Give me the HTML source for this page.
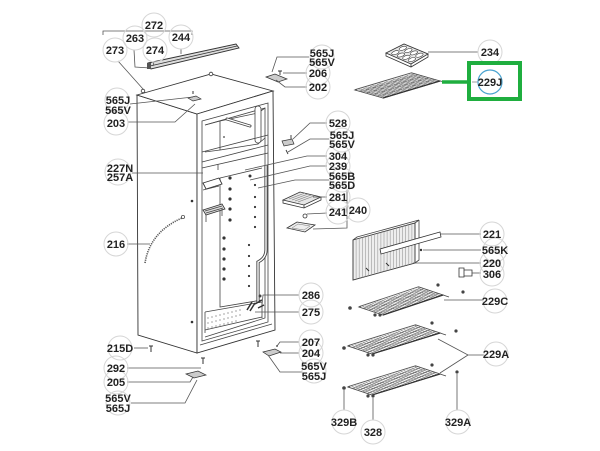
<!DOCTYPE html>
<html><head><meta charset="utf-8"><style>
html,body{margin:0;padding:0;background:#fff;}
svg{display:block;}
text{font-family:"Liberation Sans",Arial,sans-serif;font-weight:bold;font-size:11px;fill:#222;text-anchor:middle;}
.c{fill:none;stroke:#d6d6d6;stroke-width:1;}
.l{fill:none;stroke:#555;stroke-width:0.8;}
.b{fill:#fff;stroke:#333;stroke-width:0.9;}
.t{fill:none;stroke:#444;stroke-width:0.8;}
.n{vector-effect:non-scaling-stroke;}
</style></head><body>
<svg width="600" height="451" viewBox="0 0 600 451" xmlns="http://www.w3.org/2000/svg">
<defs>
<g id="wires">
<path class="n" d="M0,0H1V1H0Z" fill="#fff" stroke="#444" stroke-width="0.9"/>
<path class="n" d="M.04,0V1M.08,0V1M.12,0V1M.16,0V1M.2,0V1M.24,0V1M.28,0V1M.32,0V1M.36,0V1M.4,0V1M.44,0V1M.48,0V1M.52,0V1M.56,0V1M.6,0V1M.64,0V1M.68,0V1M.72,0V1M.76,0V1M.8,0V1M.84,0V1M.88,0V1M.92,0V1M.96,0V1" stroke="#666" stroke-width="0.65" fill="none"/>
<path class="n" d="M0,.2H1M0,.4H1M0,.6H1M0,.8H1" stroke="#777" stroke-width="0.55" fill="none"/>
<path class="n" d="M0,1H1" stroke="#333" stroke-width="1.2" fill="none"/>
<path class="n" d="M0,0H1" stroke="#555" stroke-width="1.6" fill="none"/>
<path class="n" d="M0.02,0.03H0.98" stroke="#fff" stroke-width="0.7" fill="none"/>
</g>
</defs>
<rect width="600" height="451" fill="#fff"/>

<!-- ===== Fridge body ===== -->
<path class="b" d="M137,95 L197,114 L197,353 L138,335 Z"/>
<path class="b" d="M137,95 L211,74 L273,91 L197,114 Z"/>
<path class="b" d="M197,114 L273,91 L275,330 L197,353 Z"/>
<path class="t" d="M202,121 L268,103 L268,322 L202,341 Z"/>
<path class="t" d="M205,125 L265,108 L265,318 L205,337"/>
<!-- freezer -->
<path class="t" d="M220,121 L258,113 L258,144 L220,150 Z"/>
<path class="t" d="M205,125 L220,121 M265,108 L258,113 M220,150 L205,152 M258,144 L265,138"/>
<path d="M227,119 L250,126" stroke="#444" stroke-width="3" stroke-linecap="round"/>
<path d="M227,119 L250,126" stroke="#fff" stroke-width="1.2" stroke-linecap="round"/>
<rect x="255" y="106" width="6" height="37" rx="3" fill="#fff" stroke="#444" stroke-width="0.8"/>
<circle cx="224" cy="137" r="0.9" fill="#444"/>
<!-- divider -->
<path class="t" d="M202,152 L268,135 M202,162 L268,145 M202,168 L268,153 M218,164 L218,170"/>
<!-- fridge compartment -->
<path class="t" d="M220,178 L220,307 L262,300 M220,178 L262,168"/>
<path d="M266,165 L266,250 Q266,258 258,262 L258,303" fill="none" stroke="#444" stroke-width="3.2"/>
<path d="M266,165 L266,250 Q266,258 258,262 L258,303" fill="none" stroke="#fff" stroke-width="1.4"/>
<!-- inner shelves / supports -->
<path class="b" d="M203,183 L219,178 L222,184 L206,189 Z"/>
<path class="t" d="M203,190 L219,186"/>
<path d="M203,210 L222,204 L225,209 L206,215 Z" fill="#ddd" stroke="#333" stroke-width="0.8"/>
<path class="t" d="M205,211 L222,206 M206,213 L223,208"/>
<path class="t" d="M206,215 L206,222 M222,209 L222,216"/>
<!-- holes -->
<g fill="#333">
<circle cx="230" cy="178" r="1.6"/><circle cx="230" cy="189" r="1.6"/><circle cx="230" cy="199" r="1.6"/><circle cx="230" cy="209" r="1.6"/><circle cx="230" cy="220" r="1.6"/>
<circle cx="224" cy="238" r="1.6"/><circle cx="224" cy="249" r="1.6"/><circle cx="224" cy="259" r="1.6"/><circle cx="224" cy="269" r="1.6"/><circle cx="224" cy="279" r="1.6"/>
<circle cx="255" cy="185" r="1.1"/><circle cx="255" cy="197" r="1.1"/><circle cx="255" cy="207" r="1.1"/><circle cx="255" cy="217" r="1.1"/><circle cx="255" cy="227" r="1.1"/>
<circle cx="249" cy="245" r="1.1"/><circle cx="249" cy="256" r="1.1"/><circle cx="249" cy="266" r="1.1"/><circle cx="249" cy="276" r="1.1"/><circle cx="249" cy="286" r="1.1"/>
<circle cx="192" cy="201" r="1.3"/><circle cx="192" cy="322" r="1.3"/><circle cx="250" cy="176" r="1.5"/>
</g>
<!-- crisper bottom -->
<path class="t" d="M205,312 L262,302 M205,312 L205,333 M262,302 L262,318 M205,330 L262,317"/>
<g fill="#666">
<circle cx="208" cy="318" r="0.6"/><circle cx="212" cy="317" r="0.6"/><circle cx="216" cy="316" r="0.6"/><circle cx="220" cy="315" r="0.6"/><circle cx="224" cy="314" r="0.6"/><circle cx="228" cy="313" r="0.6"/><circle cx="232" cy="312" r="0.6"/><circle cx="236" cy="311" r="0.6"/><circle cx="240" cy="310" r="0.6"/>
<circle cx="208" cy="323" r="0.6"/><circle cx="212" cy="322" r="0.6"/><circle cx="216" cy="321" r="0.6"/><circle cx="220" cy="320" r="0.6"/><circle cx="224" cy="319" r="0.6"/><circle cx="228" cy="318" r="0.6"/><circle cx="232" cy="317" r="0.6"/><circle cx="236" cy="316" r="0.6"/><circle cx="240" cy="315" r="0.6"/>
<circle cx="208" cy="328" r="0.6"/><circle cx="212" cy="327" r="0.6"/><circle cx="216" cy="326" r="0.6"/><circle cx="220" cy="325" r="0.6"/><circle cx="224" cy="324" r="0.6"/><circle cx="228" cy="323" r="0.6"/><circle cx="232" cy="322" r="0.6"/><circle cx="236" cy="321" r="0.6"/>
</g>
<path d="M247,310 L252,302 M250,311 L255,303" stroke="#333" stroke-width="1.5"/>
<path class="t" d="M200,345 L272,324"/>
<!-- tube 216 -->
<path d="M145,263 Q150,232 182,218" fill="none" stroke="#555" stroke-width="1.6" stroke-dasharray="1.2,1"/>
<circle cx="183" cy="217" r="1.6" fill="none" stroke="#555" stroke-width="0.8"/>

<!-- top rail 244 -->
<path d="M148,63 L236,44 L239,48 L151,69 Z" fill="#ddd" stroke="#333" stroke-width="0.9"/>
<path d="M150,66 L237,46" stroke="#333" stroke-width="0.8"/>
<rect x="147" y="63" width="4" height="6" fill="#555"/>
<circle cx="211" cy="74" r="1.8" fill="#fff" stroke="#333" stroke-width="0.8"/>
<circle cx="143" cy="91" r="1.8" fill="#fff" stroke="#333" stroke-width="0.8"/>
<!-- small parts top -->
<path d="M188,98 L196,96 L201,99 L193,101 Z" fill="#ccc" stroke="#333" stroke-width="0.7"/>
<path d="M193,91 L193,94" stroke="#333" stroke-width="1"/>
<path d="M266,77 L275,74 L287,79 L278,82 Z" fill="#ccc" stroke="#333" stroke-width="0.7"/>
<path d="M278,71 L282,71 M280,71 L280,75" stroke="#333" stroke-width="0.9"/>
<!-- 528 clip -->
<path d="M282,141 L292,139 L294,144 L284,146 Z" fill="#ccc" stroke="#333" stroke-width="0.7"/>
<path d="M291,135 L291,139 M286,150 L288,154" stroke="#333" stroke-width="0.9"/>
<!-- light cover 281 -->
<path d="M283,200 L300,192 L321,197 L304,205 Z" fill="#e6e6e6" stroke="#333" stroke-width="0.8"/>
<path d="M283,200 L283,203 L304,208 L321,200 L321,197 M304,205 L304,208" fill="none" stroke="#333" stroke-width="0.8"/>
<path d="M289,199 L305,193 M292,200 L308,194 M295,201 L311,195 M298,202 L314,196" stroke="#777" stroke-width="0.6"/>
<circle cx="305" cy="216" r="2" fill="#fff" stroke="#333" stroke-width="0.8"/>
<path d="M287,228 L297,222 L315,225 L305,232 Z" fill="#eee" stroke="#333" stroke-width="0.8"/>
<path d="M292,228 L298,224 L310,226 L304,230 Z" fill="none" stroke="#777" stroke-width="0.5"/>

<!-- panel 220 -->
<g transform="matrix(62,-17,0,40,353,240)">
<path class="n" d="M0,0H1V1H0Z" fill="#eee" stroke="#333" stroke-width="0.9"/>
<path class="n" d="M.05,0V1M.1,0V1M.15,0V1M.2,0V1M.25,0V1M.3,0V1M.35,0V1M.4,0V1M.45,0V1M.5,0V1M.55,0V1M.6,0V1M.65,0V1M.7,0V1M.75,0V1M.8,0V1M.85,0V1M.9,0V1M.95,0V1" stroke="#999" stroke-width="0.6" fill="none"/>
</g>
<path class="t" d="M353,240 L357,237 L419,220 L415,223 M419,220 L419,260 L415,263"/>
<path d="M380,249 L440,232 L441,237 L381,254 Z" fill="#fff" stroke="#333" stroke-width="0.8"/>
<path d="M366,268 L369,271 M386,263 L389,266" stroke="#333" stroke-width="1"/>
<circle cx="421" cy="250" r="1.2" fill="#333"/>
<!-- 306 -->
<path d="M459,268 L464,268 L464,277 L459,277 Z M464,270 L472,270 L472,276 L464,276 Z" fill="#fff" stroke="#333" stroke-width="0.8"/>

<!-- ice tray 234 -->
<path d="M386,53 L404,44 L428,54 L411,64 Z" fill="#e8e8e8" stroke="#333" stroke-width="0.9"/>
<path d="M386,53 L386,56 L411,67 L428,57 L428,54 M411,64 L411,67" fill="none" stroke="#333" stroke-width="0.8"/>
<g transform="matrix(24,10,-17,10,404,44)" fill="#fff" stroke="#333">
<ellipse class="n" cx=".15" cy=".28" rx=".09" ry=".18" stroke-width="0.6"/><ellipse class="n" cx=".38" cy=".28" rx=".09" ry=".18" stroke-width="0.6"/><ellipse class="n" cx=".61" cy=".28" rx=".09" ry=".18" stroke-width="0.6"/><ellipse class="n" cx=".84" cy=".28" rx=".09" ry=".18" stroke-width="0.6"/>
<ellipse class="n" cx=".15" cy=".72" rx=".09" ry=".18" stroke-width="0.6"/><ellipse class="n" cx=".38" cy=".72" rx=".09" ry=".18" stroke-width="0.6"/><ellipse class="n" cx=".61" cy=".72" rx=".09" ry=".18" stroke-width="0.6"/><ellipse class="n" cx=".84" cy=".72" rx=".09" ry=".18" stroke-width="0.6"/>
</g>

<!-- ===== Shelves ===== -->
<use href="#wires" transform="matrix(57,-17,28,8,355,90)"/>
<use href="#wires" transform="matrix(60,-20,24,8,359,307)"/>
<use href="#wires" transform="matrix(68,-21,24,8,348,346)"/>
<use href="#wires" transform="matrix(68,-21,24,8,348,387)"/>
<path class="t" d="M443,295 L449,297 M440,333 L446,335 M440,374 L446,376 M440,81 L445,82"/>
<!-- shelf screws -->
<g fill="#444">
<circle cx="438" cy="285" r="1.6"/><circle cx="463" cy="292" r="1.6"/><circle cx="350" cy="308" r="1.8"/><circle cx="375" cy="315" r="1.6"/><circle cx="380" cy="315" r="1.6"/>
<circle cx="432" cy="323" r="1.6"/><circle cx="456" cy="331" r="1.6"/><circle cx="344" cy="348" r="1.8"/><circle cx="368" cy="355" r="1.6"/><circle cx="373" cy="355" r="1.6"/>
<circle cx="432" cy="365" r="1.6"/><circle cx="457" cy="372" r="1.6"/><circle cx="344" cy="388" r="1.8"/><circle cx="368" cy="396" r="1.6"/><circle cx="373" cy="396" r="1.6"/>
</g>

<!-- bottom small parts -->
<path d="M149,346 L153,346 M151,346 L151,352" stroke="#333" stroke-width="1"/>
<path d="M201,358 L205,358 M203,358 L203,364" stroke="#333" stroke-width="1"/>
<path d="M186,374 L198,371 L206,375 L194,378 Z" fill="#ccc" stroke="#333" stroke-width="0.7"/>
<path d="M256,341 L260,341 M258,341 L258,347" stroke="#333" stroke-width="1"/>
<path d="M263,352 L275,349 L281,352 L269,356 Z" fill="#ccc" stroke="#333" stroke-width="0.7"/>
<circle cx="277" cy="346" r="0.9" fill="#333"/>
<path d="M255,304 L262,300 M258,308 L264,305" stroke="#333" stroke-width="1.4"/>
<circle cx="260" cy="296" r="1.5" fill="#444"/>

<!-- ===== Leaders ===== -->
<path class="l" d="M103,35 L103,31 L192,31 L192,35"/>
<path class="l" d="M134,50 L135,67 L150,68"/>
<path class="l" d="M154,62 L153,66"/>
<path class="l" d="M181,49 L181,54"/>
<path class="l" d="M118,61 L143,89"/>
<path class="l" d="M130,104 L193,97"/>
<path class="l" d="M128,122 L175,122 L195,104"/>
<path class="l" d="M132,173 L203,173"/>
<path class="l" d="M127,244 L150,244"/>
<path class="l" d="M134,348 L148,348"/>
<path class="l" d="M127,368 L201,368"/>
<path class="l" d="M127,382 L190,382 L193,377"/>
<path class="l" d="M131,403 L185,403 L197,380"/>
<path class="l" d="M309,57 L277,57 L272,72"/>
<path class="l" d="M307,73 L283,73"/>
<path class="l" d="M307,87 L285,87 L276,80"/>
<path class="l" d="M428,52 L478,52"/>
<path class="l" d="M327,123 L310,123 L293,139"/>
<path class="l" d="M329,139 L310,139 L288,152"/>
<path class="l" d="M327,156 L307,156 L245,170"/>
<path class="l" d="M327,166 L310,166 L250,180"/>
<path class="l" d="M329,180 L295,180 L258,188"/>
<path class="l" d="M327,197 L313,197"/>
<path class="l" d="M327,213 L307,214"/>
<path class="l" d="M347,190 L347,228 L313,229"/>
<path class="l" d="M441,234 L481,234"/>
<path class="l" d="M423,250 L481,250"/>
<path class="l" d="M413,263 L481,263"/>
<path class="l" d="M472,273 L481,273"/>
<path class="l" d="M444,300 L483,300"/>
<path class="l" d="M484,355 L468,355 L438,339 M468,355 L440,373"/>
<path class="l" d="M344,390 L344,410"/>
<path class="l" d="M373,398 L373,420"/>
<path class="l" d="M457,374 L457,410"/>
<path class="l" d="M299,295 L263,295 L262,305"/>
<path class="l" d="M299,312 L255,312"/>
<path class="l" d="M299,342 L280,342 L277,346"/>
<path class="l" d="M299,353 L280,353"/>
<path class="l" d="M302,372 L280,372 L268,355"/>

<!-- ===== Label circles ===== -->
<g class="c">
<circle cx="154" cy="25" r="12"/><circle cx="135" cy="38" r="12"/><circle cx="181" cy="37" r="12"/><circle cx="115" cy="50" r="12"/><circle cx="155" cy="50" r="12"/>
<circle cx="117" cy="100" r="12"/><circle cx="116" cy="123" r="12"/><circle cx="118" cy="172" r="13"/><circle cx="116" cy="244" r="12"/>
<circle cx="120" cy="348" r="12"/><circle cx="116" cy="368" r="12"/><circle cx="116" cy="382" r="12"/><circle cx="118" cy="403" r="12"/>
<circle cx="322" cy="57" r="12"/><circle cx="318" cy="73" r="12"/><circle cx="318" cy="87" r="12"/><circle cx="490" cy="52" r="12"/>
<circle cx="338" cy="123" r="12"/><circle cx="342" cy="140" r="12"/><circle cx="338" cy="156" r="12"/><circle cx="338" cy="166" r="12"/><circle cx="342" cy="180" r="12"/>
<circle cx="338" cy="197" r="12"/><circle cx="338" cy="212" r="12"/><circle cx="358" cy="210" r="12"/>
<circle cx="492" cy="234" r="12"/><circle cx="495" cy="250" r="12"/><circle cx="492" cy="263" r="12"/><circle cx="492" cy="274" r="12"/>
<circle cx="495" cy="301" r="12"/><circle cx="496" cy="354" r="12"/>
<circle cx="344" cy="422" r="12"/><circle cx="373" cy="432" r="12"/><circle cx="458" cy="422" r="12"/>
<circle cx="311" cy="295" r="12"/><circle cx="311" cy="312" r="12"/><circle cx="311" cy="342" r="12"/><circle cx="311" cy="353" r="12"/><circle cx="314" cy="371" r="12"/>
</g>

<!-- green highlight 229J -->
<path d="M442,82 L467,82" stroke="#1fae3f" stroke-width="3.5"/>
<rect x="469" y="63" width="51" height="36" fill="none" stroke="#1fae3f" stroke-width="4"/>
<path d="M472,82 L478,82" stroke="#888" stroke-width="0.8"/>
<circle cx="490" cy="82" r="12" fill="none" stroke="#4aa3d0" stroke-width="1.2"/>

<!-- ===== Label texts ===== -->
<text x="154" y="29">272</text>
<text x="135" y="42">263</text>
<text x="181" y="41">244</text>
<text x="115" y="54">273</text>
<text x="155" y="54">274</text>
<text x="118" y="104">565J</text>
<text x="118" y="114">565V</text>
<text x="116" y="127">203</text>
<text x="120" y="172">227N</text>
<text x="120" y="181">257A</text>
<text x="116" y="248">216</text>
<text x="120" y="352">215D</text>
<text x="116" y="372">292</text>
<text x="116" y="386">205</text>
<text x="118" y="402">565V</text>
<text x="118" y="412">565J</text>
<text x="322" y="57">565J</text>
<text x="322" y="66">565V</text>
<text x="318" y="77">206</text>
<text x="318" y="91">202</text>
<text x="490" y="56">234</text>
<text x="490" y="86">229J</text>
<text x="338" y="127">528</text>
<text x="342" y="139">565J</text>
<text x="342" y="148">565V</text>
<text x="338" y="160">304</text>
<text x="338" y="170">239</text>
<text x="342" y="180">565B</text>
<text x="342" y="189">565D</text>
<text x="338" y="201">281</text>
<text x="338" y="216">241</text>
<text x="358" y="214">240</text>
<text x="492" y="238">221</text>
<text x="495" y="254">565K</text>
<text x="492" y="267">220</text>
<text x="492" y="278">306</text>
<text x="495" y="305">229C</text>
<text x="496" y="358">229A</text>
<text x="344" y="426">329B</text>
<text x="373" y="436">328</text>
<text x="458" y="426">329A</text>
<text x="311" y="299">286</text>
<text x="311" y="316">275</text>
<text x="311" y="346">207</text>
<text x="311" y="357">204</text>
<text x="314" y="370">565V</text>
<text x="314" y="380">565J</text>
</svg>
</body></html>
